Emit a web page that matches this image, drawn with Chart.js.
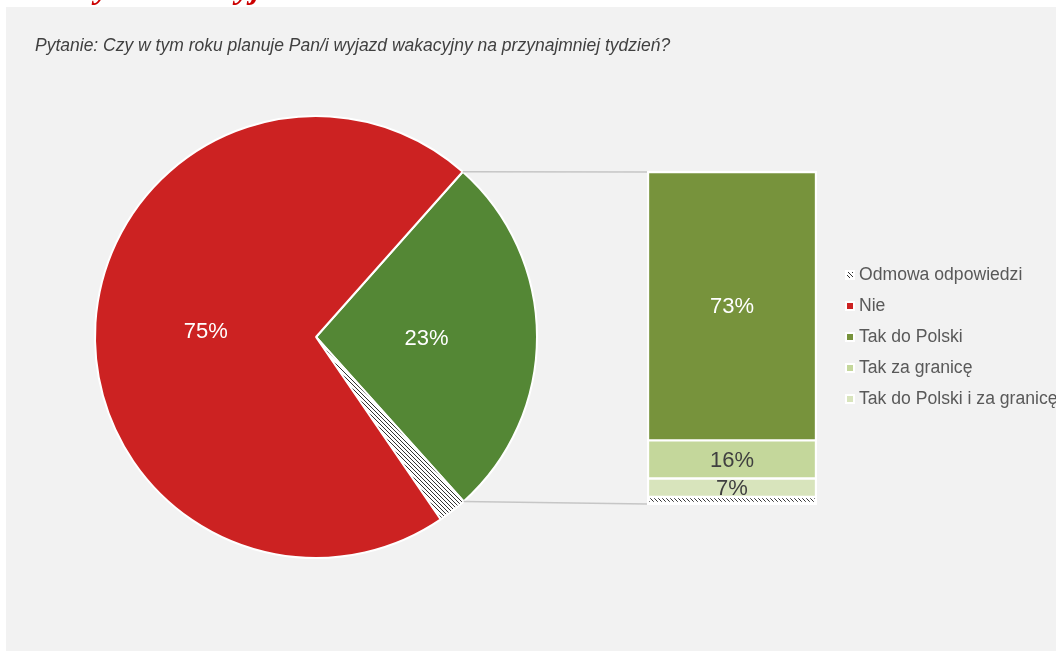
<!DOCTYPE html>
<html lang="pl">
<head>
<meta charset="utf-8">
<title>Wyjazdy wakacyjne</title>
<script src="https://cdn.jsdelivr.net/npm/chart.js@4.4.1/dist/chart.umd.min.js"></script>
<style>
    html, body { margin: 0; padding: 0; background: #fff; }
    body { width: 1056px; height: 651px; position: relative; overflow: hidden; }
    #panel { position: absolute; left: 6px; top: 7px; right: 0; bottom: 0; background: #f2f2f2; }
    canvas { position: absolute; left: 0; top: 0; }
</style>
</head>
<body>
<div id="panel"></div>
<canvas id="pie-chart" width="1056" height="651"></canvas>
<canvas id="bar-chart" width="1056" height="651"></canvas>
<script>
// ===== values =====
const questionText = 'Pytanie: Czy w tym roku planuje Pan/i wyjazd wakacyjny na przynajmniej tydzień?';

const pieCategories = ['Tak', 'Odmowa odpowiedzi', 'Nie'];
const pieValues = [26.8, 2.1, 71.1];
const pieLabels = ['23%', '', '75%'];

const barCategories = ['Odmowa odpowiedzi', 'Tak do Polski i za granicę', 'Tak za granicę', 'Tak do Polski'];
const barValues = [1.8, 5.6, 11.5, 81.1];
const barLabels = ['', '7%', '16%', '73%'];

const legendLabels = ['Odmowa odpowiedzi', 'Nie', 'Tak do Polski', 'Tak za granicę', 'Tak do Polski i za granicę'];

// ===== styles =====
const RED = '#cc2222';
const PIE_GREEN = '#548735';
const BAR_GREEN = '#77933c';
const LIGHT_GREEN = '#c4d79b';
const PALE_GREEN = '#d8e4bc';
const FONT = '"Liberation Sans", Arial, sans-serif';

function makeHatch(ctx) {
    const c = document.createElement('canvas');
    c.width = 4; c.height = 4;
    const g = c.getContext('2d');
    g.fillStyle = '#fff';
    g.fillRect(0, 0, 4, 4);
    g.strokeStyle = '#333';
    g.lineWidth = 1;
    g.beginPath();
    g.moveTo(0, 0); g.lineTo(4, 4);
    g.moveTo(-1, 3); g.lineTo(1, 5);
    g.moveTo(3, -1); g.lineTo(5, 1);
    g.stroke();
    return ctx.createPattern(c, 'repeat');
}

Chart.defaults.font.family = FONT;

// ===== pie =====
const pieCtx = document.getElementById('pie-chart').getContext('2d');
const pieHatch = makeHatch(pieCtx);

const pieLabelPlugin = {
    id: 'pieLabels',
    afterDatasetsDraw(chart) {
        const ctx = chart.ctx;
        const meta = chart.getDatasetMeta(0);
        ctx.save();
        ctx.font = '22px ' + FONT;
        ctx.fillStyle = '#fff';
        ctx.textAlign = 'center';
        ctx.textBaseline = 'middle';
        meta.data.forEach((arc, i) => {
            if (!pieLabels[i]) return;
            const p = arc.tooltipPosition();
            ctx.fillText(pieLabels[i], p.x, p.y + 2);
        });
        ctx.restore();
    }
};

const pieChart = new Chart(pieCtx, {
    type: 'pie',
    data: {
        labels: pieCategories,
        datasets: [{
            data: pieValues,
            backgroundColor: [PIE_GREEN, pieHatch, RED],
            borderColor: '#fff',
            borderWidth: 2
        }]
    },
    options: {
        responsive: false,
        animation: false,
        rotation: 41.6,
        radius: 221,
        layout: { padding: { left: 93, right: 517, top: 114, bottom: 91 } },
        plugins: { legend: { display: false }, tooltip: { enabled: false } },
        events: []
    },
    plugins: [pieLabelPlugin]
});

// ===== bar of pie =====
const barCtx = document.getElementById('bar-chart').getContext('2d');
const barHatch = makeHatch(barCtx);
const barColors = [barHatch, PALE_GREEN, LIGHT_GREEN, BAR_GREEN];
const barTextColors = ['#404040', '#404040', '#404040', '#fff'];
const legendColors = [makeHatch(barCtx), RED, BAR_GREEN, LIGHT_GREEN, PALE_GREEN];

const extrasPlugin = {
    id: 'extras',
    beforeDatasetsDraw(chart) {
        // white backing behind the bar
        const a = chart.chartArea;
        const ctx = chart.ctx;
        ctx.save();
        ctx.fillStyle = '#fff';
        ctx.fillRect(a.left - 1, a.top - 1, a.right - a.left + 2, a.bottom - a.top + 3);
        ctx.restore();
    },
    afterDatasetsDraw(chart) {
        const ctx = chart.ctx;
        ctx.save();
        ctx.font = '22px ' + FONT;
        ctx.textAlign = 'center';
        ctx.textBaseline = 'middle';
        chart.data.datasets.forEach((ds, i) => {
            const bar = chart.getDatasetMeta(i).data[0];
            if (!barLabels[i]) return;
            ctx.fillStyle = barTextColors[i];
            ctx.fillText(barLabels[i], bar.x, (bar.y + bar.base) / 2 + 1);
        });
        ctx.restore();
    },
    afterDraw(chart) {
        const ctx = chart.ctx;
        ctx.save();

        // ===== connector lines from the green slice to the bar =====
        const arc = pieChart.getDatasetMeta(0).data[0];
        const topBar = chart.getDatasetMeta(chart.data.datasets.length - 1).data[0];
        const bottomBar = chart.getDatasetMeta(0).data[0];
        const R = arc.outerRadius;
        ctx.strokeStyle = '#c6c6c6';
        ctx.lineWidth = 1.5;
        ctx.beginPath();
        ctx.moveTo(arc.x + R * Math.cos(arc.startAngle), arc.y + R * Math.sin(arc.startAngle));
        ctx.lineTo(topBar.x - topBar.width / 2 - 1, topBar.y);
        ctx.moveTo(arc.x + R * Math.cos(arc.endAngle), arc.y + R * Math.sin(arc.endAngle));
        ctx.lineTo(bottomBar.x - bottomBar.width / 2 - 1, bottomBar.base + 1);
        ctx.stroke();

        // ===== question =====
        ctx.font = 'italic 17.5px ' + FONT;
        ctx.fillStyle = '#404040';
        ctx.textAlign = 'left';
        ctx.textBaseline = 'alphabetic';
        ctx.fillText(questionText, 35, 51);

        // ===== cut-off title above the panel =====
        ctx.font = 'bold italic 34px "Liberation Serif", serif';
        ctx.fillStyle = '#cc0000';
        ctx.fillText('y', 95, -2);
        ctx.fillText('yj', 236, -2);
        ctx.fillStyle = '#fff';
        ctx.fillRect(0, 7, 6, 4);

        // ===== legend =====
        ctx.font = '17.6px ' + FONT;
        ctx.textBaseline = 'middle';
        legendLabels.forEach((lab, i) => {
            const y = 275 + i * 31;
            ctx.fillStyle = '#fff';
            ctx.fillRect(845, y - 5, 10, 10);
            ctx.fillStyle = legendColors[i];
            ctx.fillRect(847, y - 3, 6, 6);
            ctx.fillStyle = '#595959';
            ctx.fillText(lab, 859, y);
        });
        ctx.restore();
    }
};

new Chart(barCtx, {
    type: 'bar',
    data: {
        labels: ['Tak'],
        datasets: barValues.map((v, i) => ({
            label: barCategories[i],
            data: [v],
            backgroundColor: barColors[i],
            borderColor: '#fff',
            borderWidth: 1.5,
            borderSkipped: false,
            categoryPercentage: 1,
            barPercentage: 1
        }))
    },
    options: {
        responsive: false,
        animation: false,
        layout: { padding: { left: 648, right: 240, top: 172, bottom: 148 } },
        scales: {
            x: { display: false, stacked: true },
            y: { display: false, stacked: true, min: 0, max: 100 }
        },
        plugins: { legend: { display: false }, tooltip: { enabled: false } },
        events: []
    },
    plugins: [extrasPlugin]
});
</script>
</body>
</html>
